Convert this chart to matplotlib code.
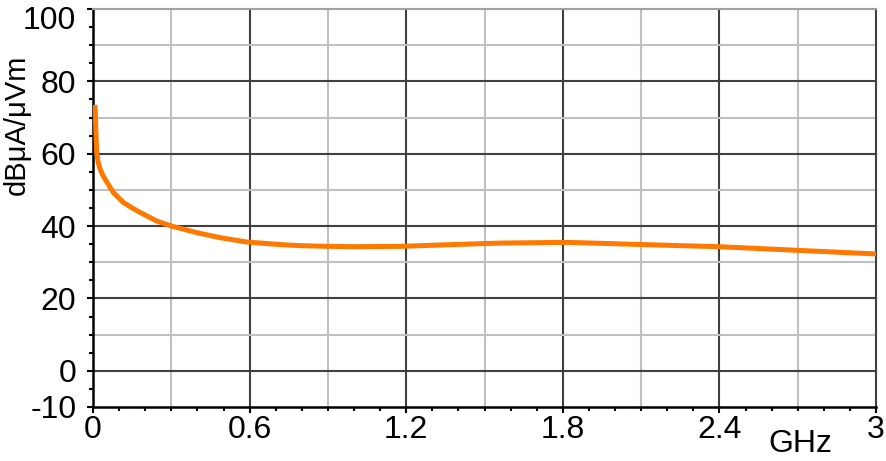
import numpy as np
import matplotlib.pyplot as plt
import matplotlib.transforms as mtransforms
from matplotlib.ticker import MultipleLocator

plt.rcParams['font.family'] = ['Liberation Sans', 'DejaVu Sans']

# curve (GHz, dBuA/uVm)
freq = [0.008, 0.010, 0.012, 0.014, 0.020, 0.027, 0.036, 0.046, 0.062, 0.078,
        0.097, 0.117, 0.148, 0.18, 0.244, 0.301, 0.397, 0.487, 0.589, 0.716,
        0.79, 0.9, 1.0, 1.18, 1.38, 1.56, 1.8, 1.87, 2.1, 2.4, 2.7, 3.0]
level = [73.5, 68.7, 64.1, 60.4, 57.6, 55.8, 54.3, 53.0, 51.1, 49.3,
         47.9, 46.5, 45.1, 43.8, 41.4, 40.0, 38.2, 36.8, 35.6, 34.9,
         34.6, 34.4, 34.3, 34.4, 34.9, 35.3, 35.5, 35.4, 34.9, 34.3, 33.3, 32.3]

x_ticks = [0, 0.6, 1.2, 1.8, 2.4, 3]
x_labels = ['0', '0.6', '1.2', '1.8', '2.4', '3']
y_ticks = [-10, 0, 20, 40, 60, 80, 100]
y_labels = ['-10', '0', '20', '40', '60', '80', '100']

fig = plt.figure(figsize=(8.86, 4.61), dpi=100)
ax = fig.add_axes([93/886, 1 - 407/461, (876 - 93)/886, (407 - 9)/461])

ax.set_xlim(0, 3)
ax.set_ylim(-10, 100)

# grid: dark on major, light in between
for gx in [0.3, 0.9, 1.5, 2.1, 2.7]:
    ax.axvline(gx, color='#c0c0c0', lw=1.5, zorder=1)
for gx in [0.6, 1.2, 1.8, 2.4]:
    ax.axvline(gx, color='#404040', lw=1.5, zorder=1)
for gy in [10, 30, 50, 70, 90]:
    ax.axhline(gy, color='#c0c0c0', lw=1.5, zorder=1)
for gy in [0, 20, 40, 60, 80]:
    ax.axhline(gy, color='#404040', lw=1.5, zorder=1)

ax.plot(freq, level, color='#ff7800', lw=3.6, zorder=3, solid_capstyle='butt',
        solid_joinstyle='round')

ax.set_xticks(x_ticks)
ax.set_xticklabels(x_labels)
ax.set_yticks(y_ticks)
ax.set_yticklabels(y_labels)
ax.xaxis.set_minor_locator(MultipleLocator(0.1))
ax.yaxis.set_minor_locator(MultipleLocator(5))

ax.tick_params(axis='both', which='major', labelsize=23, direction='out',
               length=4, width=1.5, color='black')
ax.tick_params(axis='y', which='major', pad=8)
ax.tick_params(axis='x', which='major', pad=2)
ax.tick_params(axis='both', which='minor', direction='out', length=3,
               width=1.5, color='black')

# top label sits a bit lower so it stays inside the picture
top_lbl = ax.get_yticklabels()[-1]
top_lbl.set_transform(top_lbl.get_transform() +
                      mtransforms.ScaledTranslation(0, -6/72, fig.dpi_scale_trans))

ax.spines['left'].set_color('black')
ax.spines['bottom'].set_color('black')
ax.spines['left'].set_linewidth(1.8)
ax.spines['bottom'].set_linewidth(1.8)
ax.spines['right'].set_color('#404040')
ax.spines['right'].set_linewidth(1.5)
ax.spines['top'].set_color('#a0a0a0')
ax.spines['top'].set_linewidth(1.5)

ax.set_ylabel('dBμA/μVm', fontsize=21)
ax.yaxis.set_label_coords(-0.080, 0.71)
ax.set_xlabel('GHz', fontsize=23)
ax.xaxis.set_label_coords(0.904, -0.055)

fig.savefig('out.png', dpi=100)
